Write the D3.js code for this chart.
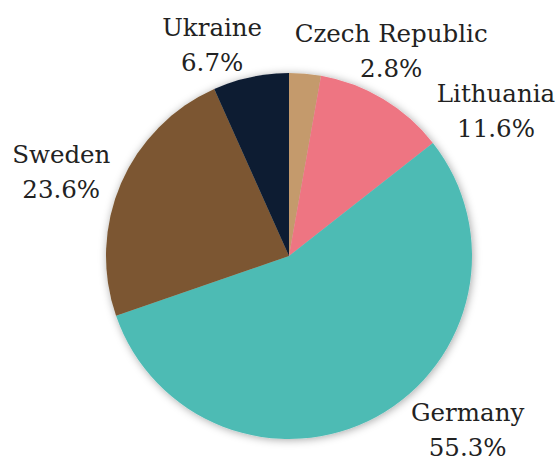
<!DOCTYPE html>
<html>
<head>
<meta charset="utf-8">
<script src="https://cdn.jsdelivr.net/npm/d3@7"></script>
<style>
  html, body { margin: 0; padding: 0; background: #fff; }
  svg { display: block; }
</style>
</head>
<body>
<div id="chart"></div>
<script>
"use strict";

const width = 557,
  height = 461;

// Data, clockwise from 12 o'clock
const countries = ["Czech Republic", "Lithuania", "Germany", "Sweden", "Ukraine"];
const shares = [2.8, 11.6, 55.3, 23.6, 6.7];
const sliceColours = ["#c49a6c", "#ee7482", "#4ebbb4", "#7b5731", "#0e1c33"];

// label placement: angle nudge from slice middle (deg) and distance from centre
const labelNudge = [20.5, 22.4, -18.7, -1.2, -7.2];
const labelDist = [237, 258, 243, 246, 233];

const cx = 289,
  cy = 256,
  radius = 183;

const formatShare = d3.format(".1f");

const svg = d3
  .select("#chart")
  .append("svg")
  .attr("width", width)
  .attr("height", height)
  .attr("viewBox", [0, 0, width, height]);

// soft shadow round the pie
const defs = svg.append("defs");
const shadow = defs
  .append("filter")
  .attr("id", "pieShadow")
  .attr("x", "-20%")
  .attr("y", "-20%")
  .attr("width", "140%")
  .attr("height", "140%");
shadow
  .append("feDropShadow")
  .attr("dx", 1)
  .attr("dy", 1)
  .attr("stdDeviation", 4)
  .attr("flood-color", "#000")
  .attr("flood-opacity", 0.35);

const pie = d3
  .pie()
  .sort(null)
  .value((d) => d.share);

const arc = d3.arc().innerRadius(0).outerRadius(radius);

const rows = countries.map((c, i) => ({
  country: c,
  share: shares[i],
  colour: sliceColours[i],
  nudge: labelNudge[i],
  dist: labelDist[i],
}));

const arcs = pie(rows);

const g = svg.append("g").attr("transform", `translate(${cx},${cy})`);

g.append("g")
  .attr("filter", "url(#pieShadow)")
  .selectAll("path")
  .data(arcs)
  .join("path")
  .attr("d", arc)
  .attr("fill", (d) => d.data.colour);

// labels - DejaVu Serif is the serif face that resolves here
const labels = g
  .append("g")
  .attr("fill", "#222")
  .attr("text-anchor", "middle")
  .attr("font-family", "DejaVu Serif")
  .attr("font-size", 24.5)
  .selectAll("text")
  .data(arcs)
  .join("text")
  .attr("transform", (d) => {
    const mid = (d.startAngle + d.endAngle) / 2 + (d.data.nudge * Math.PI) / 180;
    const [x, y] = d3.pointRadial(mid, d.data.dist);
    return `translate(${x},${y})`;
  });

labels
  .append("tspan")
  .attr("x", 0)
  .attr("y", 0)
  .text((d) => d.data.country);

labels
  .append("tspan")
  .attr("x", 0)
  .attr("y", 35)
  .text((d) => formatShare(d.data.share) + "%");
</script>
</body>
</html>
